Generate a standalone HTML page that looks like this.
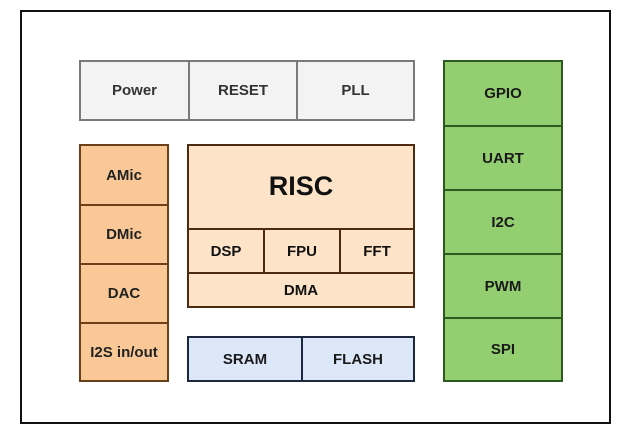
<!DOCTYPE html>
<html><head><meta charset="utf-8"><style>
html,body{margin:0;padding:0;background:#fff;width:640px;height:439px;overflow:hidden}
body{position:relative;font-family:"Liberation Sans",Arial,sans-serif;font-weight:bold}
.b{position:absolute;box-sizing:border-box;display:flex;align-items:center;justify-content:center;font-size:15px;color:#222}
.g{background:#f3f3f3;border:2px solid #7a7a7a;color:#333}
.o{background:#f9c896;border:2px solid #6b4018;color:#222}
.r{background:#fde3c8;border:2px solid #4e2a10;color:#111}
.bl{background:#dce7f8;border:2px solid #1c2840;color:#1a1a1a}
.gr{background:#93cf70;border:2px solid #2c5a1f;color:#1a1a1a}
</style></head><body>
<div style="position:absolute;left:20px;top:10px;width:591px;height:414px;box-sizing:border-box;border:2px solid #111"></div>

<div class="b g" style="left:79px;top:60px;width:111px;height:61px">Power</div>
<div class="b g" style="left:188px;top:60px;width:110px;height:61px">RESET</div>
<div class="b g" style="left:296px;top:60px;width:119px;height:61px">PLL</div>

<div class="b o" style="left:79px;top:144px;width:90px;height:62px">AMic</div>
<div class="b o" style="left:79px;top:204px;width:90px;height:61px">DMic</div>
<div class="b o" style="left:79px;top:263px;width:90px;height:61px">DAC</div>
<div class="b o" style="left:79px;top:322px;width:90px;height:60px">I2S in/out</div>

<div class="b r" style="left:187px;top:144px;width:228px;height:86px;font-size:27px;padding-bottom:2px">RISC</div>
<div class="b r" style="left:187px;top:228px;width:78px;height:46px">DSP</div>
<div class="b r" style="left:263px;top:228px;width:78px;height:46px">FPU</div>
<div class="b r" style="left:339px;top:228px;width:76px;height:46px">FFT</div>
<div class="b r" style="left:187px;top:272px;width:228px;height:36px">DMA</div>

<div class="b bl" style="left:187px;top:336px;width:116px;height:46px">SRAM</div>
<div class="b bl" style="left:301px;top:336px;width:114px;height:46px">FLASH</div>

<div class="b gr" style="left:443px;top:60px;width:120px;height:67px">GPIO</div>
<div class="b gr" style="left:443px;top:125px;width:120px;height:66px">UART</div>
<div class="b gr" style="left:443px;top:189px;width:120px;height:66px">I2C</div>
<div class="b gr" style="left:443px;top:253px;width:120px;height:66px">PWM</div>
<div class="b gr" style="left:443px;top:317px;width:120px;height:65px">SPI</div>
</body></html>
